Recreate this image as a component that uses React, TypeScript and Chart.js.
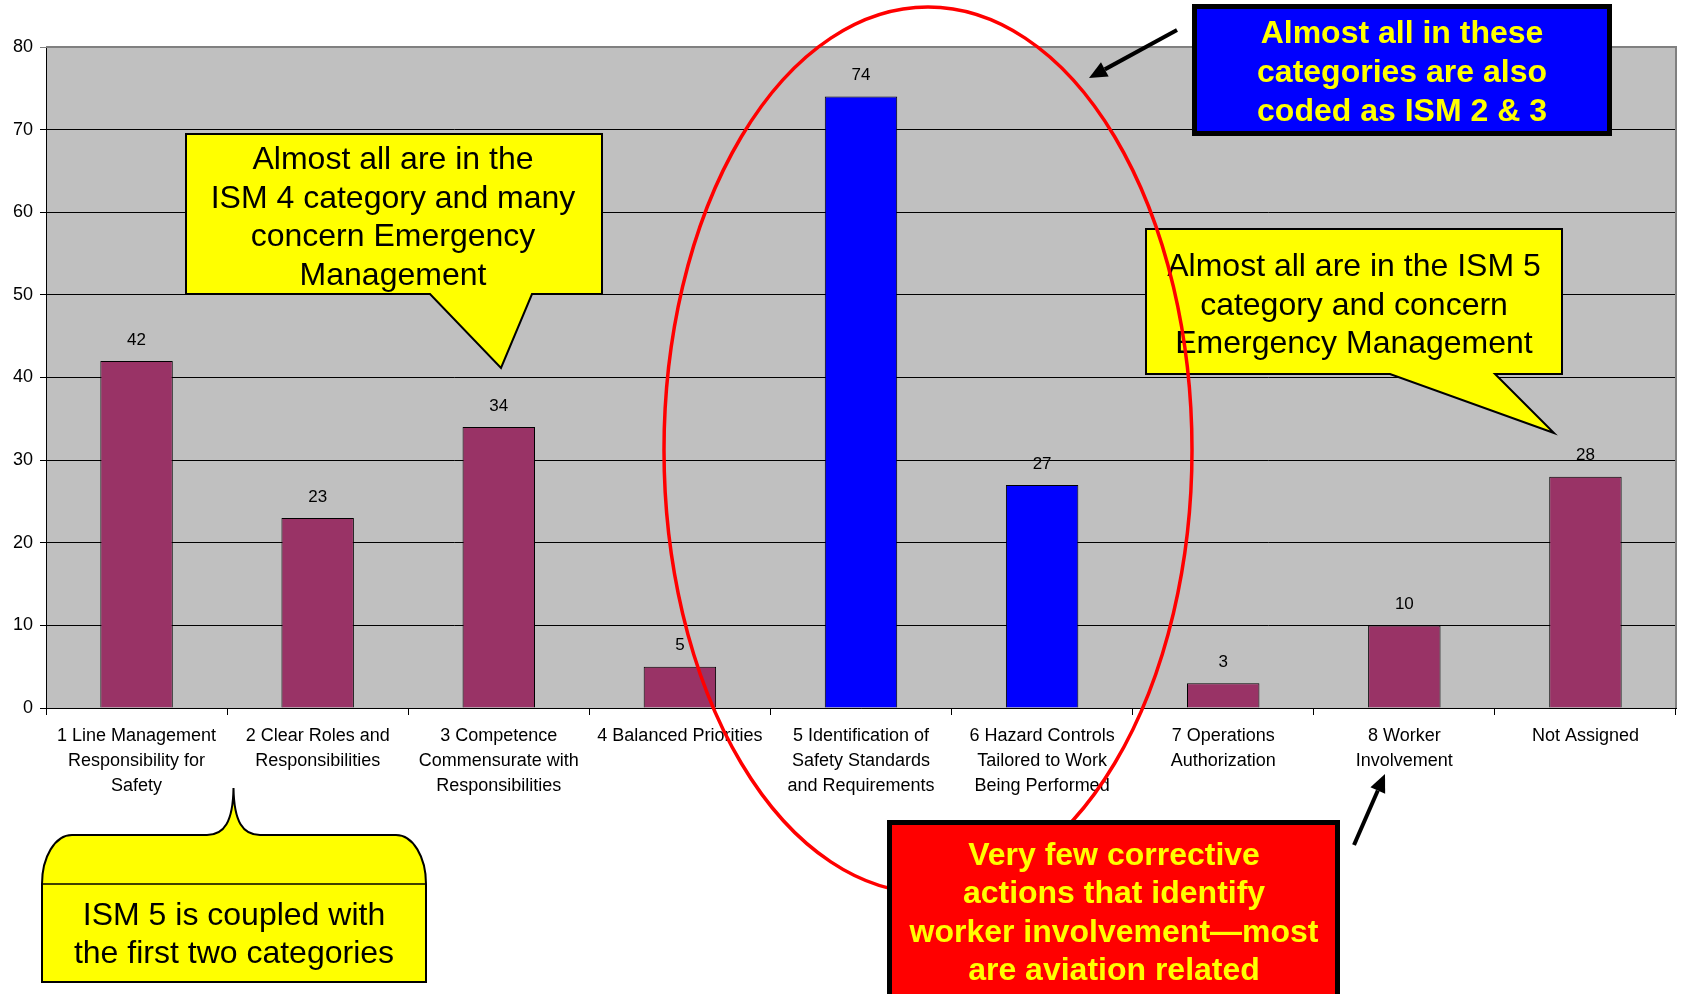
import React, { useEffect, useRef } from "react";
import { Chart, registerables } from "chart.js";

Chart.register(...registerables);

const categories: string[][] = [
  ["1 Line Management", "Responsibility for", "Safety"],
  ["2 Clear Roles and", "Responsibilities"],
  ["3 Competence", "Commensurate with", "Responsibilities"],
  ["4 Balanced Priorities"],
  ["5 Identification of", "Safety Standards", "and Requirements"],
  ["6 Hazard Controls", "Tailored to Work", "Being Performed"],
  ["7 Operations", "Authorization"],
  ["8 Worker", "Involvement"],
  ["Not Assigned"],
];
const counts: number[] = [42, 23, 34, 5, 74, 27, 3, 10, 28];
const highlighted: boolean[] = [false, false, false, false, true, true, false, false, false];
const yTicks = { min: 0, max: 80, step: 10 };

const noteIsm4: string[] = ["Almost all are in the", "ISM 4 category and many", "concern Emergency", "Management"];
const noteIsm5: string[] = ["Almost all are in the ISM 5", "category and concern", "Emergency Management"];
const noteBlue: string[] = ["Almost all in these", "categories are also", "coded as ISM 2 & 3"];
const noteRed: string[] = ["Very few corrective", "actions that identify", "worker involvement\u2014most", "are aviation related"];
const noteCoupled: string[] = ["ISM 5 is coupled with", "the first two categories"];

const MAROON = "#993366";
const BLUE = "#0000FF";
const FONT = "'Liberation Sans', Arial, sans-serif";

function drawLines(ctx: CanvasRenderingContext2D, lines: string[], cx: number, ys: number[], font: string, color: string) {
  ctx.save();
  ctx.font = font;
  ctx.fillStyle = color;
  ctx.textAlign = "center";
  ctx.textBaseline = "middle";
  lines.forEach((l, i) => ctx.fillText(l, cx, ys[i] + 2.5));
  ctx.restore();
}

function arrow(ctx: CanvasRenderingContext2D, x1: number, y1: number, x2: number, y2: number) {
  const ang = Math.atan2(y2 - y1, x2 - x1);
  const hl = 18, hw = 8;
  const bx = x2 - hl * Math.cos(ang), by = y2 - hl * Math.sin(ang);
  ctx.save();
  ctx.strokeStyle = "#000";
  ctx.fillStyle = "#000";
  ctx.lineWidth = 4;
  ctx.beginPath();
  ctx.moveTo(x1, y1);
  ctx.lineTo(bx, by);
  ctx.stroke();
  ctx.beginPath();
  ctx.moveTo(x2, y2);
  ctx.lineTo(bx + hw * Math.sin(ang), by - hw * Math.cos(ang));
  ctx.lineTo(bx - hw * Math.sin(ang), by + hw * Math.cos(ang));
  ctx.closePath();
  ctx.fill();
  ctx.restore();
}

const decorPlugin = {
  id: "decor",
  beforeDraw(chart: any) {
    const { ctx, chartArea: a } = chart;
    ctx.save();
    ctx.fillStyle = "#C0C0C0";
    ctx.fillRect(a.left, a.top, a.right - a.left, a.bottom - a.top);
    ctx.restore();
  },
  afterDatasetsDraw(chart: any) {
    const { ctx } = chart;
    const meta = chart.getDatasetMeta(0);
    ctx.save();
    ctx.font = `17px ${FONT}`;
    ctx.fillStyle = "#000";
    ctx.textAlign = "center";
    ctx.textBaseline = "middle";
    meta.data.forEach((el: any, i: number) => {
      ctx.fillText(String(counts[i]), el.x, el.y - 21);
    });
    ctx.restore();
  },
  afterDraw(chart: any) {
    const { ctx, chartArea: a } = chart;
    ctx.save();
    // plot border top/right
    ctx.strokeStyle = "#808080";
    ctx.lineWidth = 2;
    ctx.beginPath();
    ctx.moveTo(a.left, a.top);
    ctx.lineTo(a.right, a.top);
    ctx.lineTo(a.right, a.bottom);
    ctx.stroke();

    // callout ISM 4
    ctx.fillStyle = "#FFFF00";
    ctx.strokeStyle = "#000";
    ctx.lineWidth = 2;
    ctx.beginPath();
    ctx.moveTo(186, 134);
    ctx.lineTo(602, 134);
    ctx.lineTo(602, 294);
    ctx.lineTo(532, 294);
    ctx.lineTo(501, 368);
    ctx.lineTo(430, 294);
    ctx.lineTo(186, 294);
    ctx.closePath();
    ctx.fill();
    ctx.stroke();
    drawLines(ctx, noteIsm4, 393, [158, 196.5, 235, 273.5], `32px ${FONT}`, "#000");

    // callout ISM 5
    ctx.beginPath();
    ctx.moveTo(1146, 229);
    ctx.lineTo(1562, 229);
    ctx.lineTo(1562, 374);
    ctx.lineTo(1495, 374);
    ctx.lineTo(1554, 433);
    ctx.lineTo(1390, 374);
    ctx.lineTo(1146, 374);
    ctx.closePath();
    ctx.fillStyle = "#FFFF00";
    ctx.fill();
    ctx.stroke();
    drawLines(ctx, noteIsm5, 1354, [265, 303.5, 341.5], `32px ${FONT}`, "#000");

    // red ellipse
    ctx.strokeStyle = "#FF0000";
    ctx.lineWidth = 3.5;
    ctx.beginPath();
    ctx.ellipse(928, 450, 264, 443, 0, 0, Math.PI * 2);
    ctx.stroke();

    // blue box
    ctx.fillStyle = BLUE;
    ctx.fillRect(1192, 4, 420, 132);
    ctx.strokeStyle = "#000";
    ctx.lineWidth = 5;
    ctx.strokeRect(1194.5, 6.5, 415, 127);
    drawLines(ctx, noteBlue, 1402, [32, 71, 109.5], `bold 32px ${FONT}`, "#FFFF00");

    // arrow from blue box
    arrow(ctx, 1177, 30, 1089, 78);

    // red box
    ctx.fillStyle = "#FF0000";
    ctx.fillRect(887, 820, 453, 180);
    ctx.strokeStyle = "#000";
    ctx.lineWidth = 5;
    ctx.strokeRect(889.5, 822.5, 448, 200);
    drawLines(ctx, noteRed, 1114, [853.5, 892, 930.5, 969], `bold 32px ${FONT}`, "#FFFF00");

    // arrow to worker involvement
    arrow(ctx, 1354, 845, 1385, 774);

    // bottom-left callout
    const L = 42, R = 426, B = 982, M = 884, T = 835;
    ctx.fillStyle = "#FFFF00";
    ctx.strokeStyle = "#000";
    ctx.lineWidth = 2;
    ctx.beginPath();
    ctx.moveTo(L, B);
    ctx.lineTo(L, M);
    ctx.bezierCurveTo(L, M - 27, L + 13, T, L + 30, T);
    ctx.lineTo(207, T);
    ctx.bezierCurveTo(224, T, 233, 822, 233.5, 788);
    ctx.bezierCurveTo(234, 822, 243, T, 260, T);
    ctx.lineTo(R - 30, T);
    ctx.bezierCurveTo(R - 13, T, R, M - 27, R, M);
    ctx.lineTo(R, B);
    ctx.closePath();
    ctx.fill();
    ctx.stroke();
    ctx.lineWidth = 1.5;
    ctx.beginPath();
    ctx.moveTo(L, M);
    ctx.lineTo(R, M);
    ctx.stroke();
    drawLines(ctx, noteCoupled, 234, [914, 952], `32px ${FONT}`, "#000");
    ctx.restore();
  },
};

export default function App() {
  const ref = useRef<HTMLCanvasElement | null>(null);
  useEffect(() => {
    if (!ref.current) return;
    const chart = new Chart(ref.current, {
      type: "bar",
      data: {
        labels: categories,
        datasets: [
          {
            data: counts,
            backgroundColor: highlighted.map((h) => (h ? BLUE : MAROON)),
            borderColor: "#000",
            borderWidth: 1,
            barPercentage: 0.4,
            categoryPercentage: 1,
          },
        ],
      },
      options: {
        animation: false,
        responsive: false,
        devicePixelRatio: 1,
        layout: { padding: { top: 47, right: 5, left: 0, bottom: 0 } },
        plugins: { legend: { display: false }, tooltip: { enabled: false } },
        scales: {
          x: {
            afterFit: (s: any) => {
              s.height = 286;
            },
            grid: { display: true, drawOnChartArea: false, offset: true, tickLength: 7, color: "#000" },
            border: { display: true, color: "#000", width: 1 },
            ticks: {
              color: "#000",
              font: { family: FONT, size: 18, lineHeight: 1.38 },
              maxRotation: 0,
              minRotation: 0,
              autoSkip: false,
              padding: 9,
            },
          },
          y: {
            min: yTicks.min,
            max: yTicks.max,
            afterFit: (s: any) => {
              s.width = 46;
            },
            grid: {
              color: (c: any) => (c.tick && c.tick.value === yTicks.max ? "#808080" : "#000"),
              tickLength: 6,
              lineWidth: 1,
            },
            border: { display: true, color: "#000", width: 1 },
            ticks: {
              stepSize: yTicks.step,
              color: "#000",
              font: { family: FONT, size: 18 },
              padding: 7,
            },
          },
        },
      },
      plugins: [decorPlugin],
    });
    return () => chart.destroy();
  }, []);
  return (
    <div style={{ position: "absolute", left: 0, top: 0, width: 1681, height: 994, background: "#fff" }}>
      <canvas ref={ref} width={1681} height={994} style={{ display: "block" }} />
    </div>
  );
}
